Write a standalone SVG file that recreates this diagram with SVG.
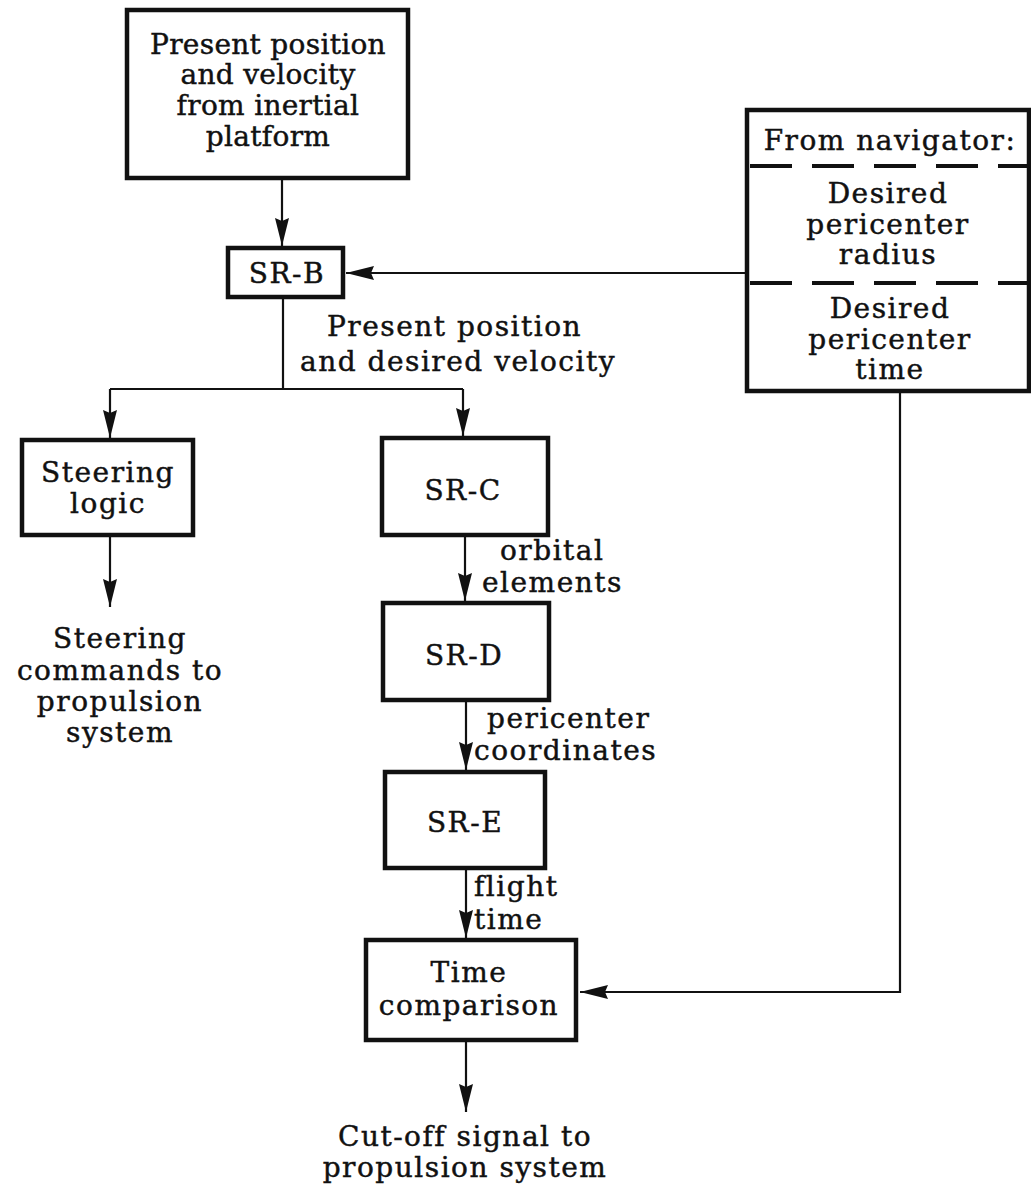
<svg xmlns="http://www.w3.org/2000/svg" width="1031" height="1192" viewBox="0 0 1031 1192">
  <style>
    .box { fill: #fff; stroke: #111; stroke-width: 4.5; }
    .wire { fill: none; stroke: #111; stroke-width: 2.2; }
    .dash { fill: none; stroke: #111; stroke-width: 4; stroke-dasharray: 42 20; }
    text { font-family: "DejaVu Serif", "Liberation Serif", serif; font-size: 28px; letter-spacing: 1.5px; fill: #111; stroke: #111; stroke-width: 0.45; }
    .c { text-anchor: middle; }
    .tight { letter-spacing: 0.3px; }
  </style>
  <defs>
    <marker id="arrow" viewBox="0 0 28 15" refX="28" refY="7.5" markerWidth="28" markerHeight="15" markerUnits="userSpaceOnUse" orient="auto">
      <path d="M0,0.5 L28,7.5 L0,14.5 L3,7.5 Z" fill="#111"/>
    </marker>
  </defs>

  <rect width="1031" height="1192" fill="#fff"/>

  <!-- connectors -->
  <g id="connectors">
    <line class="wire" x1="282" y1="178" x2="282" y2="246" marker-end="url(#arrow)"/>
    <line class="wire" x1="747" y1="273" x2="346" y2="273" marker-end="url(#arrow)"/>
    <polyline class="wire" points="283,297 283,389"/>
    <polyline class="wire" points="110,389 463,389"/>
    <line class="wire" x1="110" y1="389" x2="110" y2="438" marker-end="url(#arrow)"/>
    <line class="wire" x1="463" y1="389" x2="463" y2="436" marker-end="url(#arrow)"/>
    <line class="wire" x1="110" y1="535" x2="110" y2="607" marker-end="url(#arrow)"/>
    <line class="wire" x1="465" y1="535" x2="465" y2="601" marker-end="url(#arrow)"/>
    <line class="wire" x1="466" y1="700" x2="466" y2="770" marker-end="url(#arrow)"/>
    <line class="wire" x1="466" y1="868" x2="466" y2="938" marker-end="url(#arrow)"/>
    <line class="wire" x1="466" y1="1040" x2="466" y2="1112" marker-end="url(#arrow)"/>
    <polyline class="wire" points="900,391 900,992 580,992" marker-end="url(#arrow)"/>
  </g>

  <!-- connector labels -->
  <g id="labels">
    <text x="327" y="336">Present position</text>
    <text x="300" y="371">and desired velocity</text>
    <text x="500" y="560">orbital</text>
    <text x="482" y="592">elements</text>
    <text x="487" y="728">pericenter</text>
    <text x="474" y="760">coordinates</text>
    <text x="474" y="896">flight</text>
    <text x="474" y="929">time</text>
  </g>

  <g id="platform">
    <rect class="box" x="127" y="10" width="281" height="168"/>
    <text class="c tight" x="268" y="54">Present position</text>
    <text class="c tight" x="268" y="84">and velocity</text>
    <text class="c tight" x="268" y="115">from inertial</text>
    <text class="c tight" x="268" y="146">platform</text>
  </g>

  <g id="sr-b">
    <rect class="box" x="228" y="248" width="115" height="49"/>
    <text class="c" x="287" y="283">SR-B</text>
  </g>

  <g id="navigator">
    <rect class="box" x="747" y="110" width="282" height="281"/>
    <text class="c" x="890" y="150">From navigator:</text>
    <line class="dash" x1="750" y1="166" x2="1029" y2="166"/>
    <text class="c" x="888" y="203">Desired</text>
    <text class="c" x="888" y="234">pericenter</text>
    <text class="c" x="888" y="264">radius</text>
    <line class="dash" x1="750" y1="283" x2="1029" y2="283"/>
    <text class="c" x="890" y="318">Desired</text>
    <text class="c" x="890" y="349">pericenter</text>
    <text class="c" x="890" y="379">time</text>
  </g>

  <g id="steering">
    <rect class="box" x="22" y="440" width="171" height="95"/>
    <text class="c" x="108" y="482">Steering</text>
    <text class="c" x="108" y="513">logic</text>
  </g>

  <g id="steering-out">
    <text class="c" x="120" y="648">Steering</text>
    <text class="c" x="120" y="680">commands to</text>
    <text class="c" x="120" y="711">propulsion</text>
    <text class="c" x="120" y="742">system</text>
  </g>

  <g id="sr-c">
    <rect class="box" x="382" y="438" width="166" height="97"/>
    <text class="c" x="463" y="500">SR-C</text>
  </g>

  <g id="sr-d">
    <rect class="box" x="383" y="603" width="166" height="97"/>
    <text class="c" x="464" y="665">SR-D</text>
  </g>

  <g id="sr-e">
    <rect class="box" x="385" y="772" width="160" height="96"/>
    <text class="c" x="465" y="832">SR-E</text>
  </g>

  <g id="time-comparison">
    <rect class="box" x="366" y="940" width="210" height="100"/>
    <text class="c" x="469" y="982">Time</text>
    <text class="c" x="469" y="1015">comparison</text>
  </g>

  <g id="cutoff-out">
    <text class="c" x="465" y="1146">Cut-off signal to</text>
    <text class="c" x="465" y="1177">propulsion system</text>
  </g>
</svg>
